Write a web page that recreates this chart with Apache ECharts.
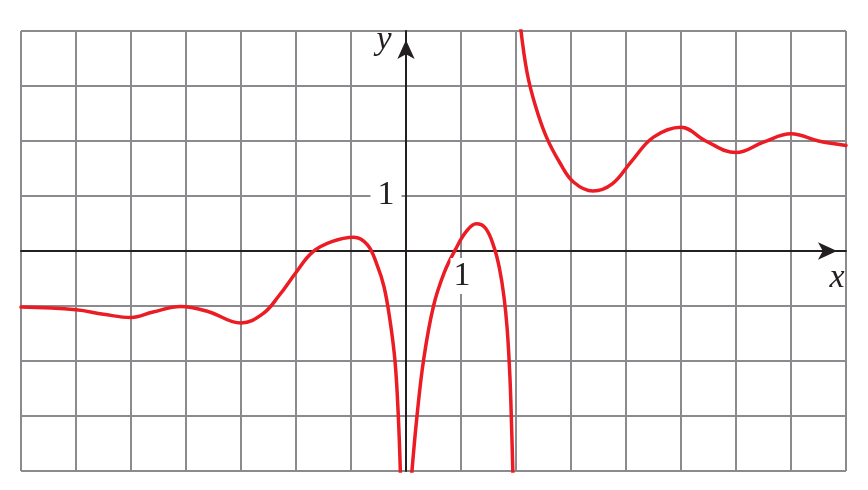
<!DOCTYPE html>
<html><head><meta charset="utf-8">
<script src="https://cdn.jsdelivr.net/npm/echarts@6/dist/echarts.min.js"></script>
<style>html,body{margin:0;padding:0;background:#fff}#c{width:868px;height:490px}</style>
</head><body><div id="c"></div>
<script>
// Axis ranges and labels
const xRange = [-7, 8];
const yRange = [-4, 4];
const xTickLabelValues = [1];
const yTickLabelValues = [1];
const xAxisName = 'x';
const yAxisName = 'y';

// Branch left of x = 0
const seg1X = [-7, -6, -5.5, -5, -4.6, -4.1, -3.6, -3, -2.6, -2.3, -2, -1.7, -1.35, -0.95, -0.7, -0.52, -0.4, -0.3, -0.2, -0.14, -0.1];
const seg1Y = [-1.02, -1.07, -1.15, -1.21, -1.11, -1.01, -1.1, -1.31, -1.14, -0.8, -0.39, -0.02, 0.17, 0.25, 0.11, -0.27, -0.65, -1.2, -2.0, -3.0, -4.1];

// Branch between x = 0 and x = 2
const seg2X = [0.1, 0.2, 0.32, 0.5, 0.7, 0.9, 1.1, 1.28, 1.45, 1.6, 1.7, 1.78, 1.84, 1.89, 1.92, 1.945];
const seg2Y = [-4.1, -3.0, -1.98, -1.0, -0.38, 0.03, 0.36, 0.495, 0.41, 0.07, -0.32, -0.82, -1.42, -2.3, -3.2, -4.1];

// Branch right of x = 2
const seg3X = [2.08, 2.2, 2.35, 2.55, 2.8, 3.05, 3.4, 3.75, 4.1, 4.5, 5, 5.45, 6, 6.5, 7, 7.5, 8];
const seg3Y = [4.1, 3.25, 2.65, 2.08, 1.6, 1.25, 1.09, 1.22, 1.63, 2.07, 2.25, 2.0, 1.79, 1.98, 2.13, 2.0, 1.92];

const zip = (xs, ys) => xs.map((x, i) => [x, ys[i]]);
const RED = '#ec1c24';
const GRID = '#8b8b8f';
const INK = '#231f20';
const FONT = '"Liberation Serif", "DejaVu Serif", serif';

const chart = echarts.init(document.getElementById('c'), null, {renderer: 'canvas'});

function lineSeries(data) {
  return {
    type: 'line', data, smooth: 0.4, showSymbol: false, symbol: 'none',
    clip: true, z: 5,
    lineStyle: {color: RED, width: 3.5, cap: 'round', join: 'round'}
  };
}

const axisCommon = {
  type: 'value', interval: 1,
  axisLine: {show: true, onZero: true, symbol: ['none', 'arrow'], symbolSize: [13, 19], symbolOffset: [0, -9],
    lineStyle: {color: INK, width: 2}},
  axisTick: {show: false},
  axisLabel: {show: false},
  splitLine: {show: true, lineStyle: {color: GRID, width: 2}}
};

chart.setOption({
  animation: false,
  backgroundColor: '#fff',
  grid: {left: 21, top: 31, width: 825, height: 440, containLabel: false, outerBoundsMode: 'none'},
  xAxis: Object.assign({}, axisCommon, {min: xRange[0], max: xRange[1]}),
  yAxis: Object.assign({}, axisCommon, {min: yRange[0], max: yRange[1]}),
  series: [lineSeries(zip(seg1X, seg1Y)), lineSeries(zip(seg2X, seg2Y)), lineSeries(zip(seg3X, seg3Y))]
});

// Tick labels and axis names, positioned through the chart's own scales
const graphics = [];
xTickLabelValues.forEach(v => {
  const p = chart.convertToPixel({gridIndex: 0}, [v, 0]);
  graphics.push({type: 'text', x: p[0] + 1, y: p[1] + 25, z: 10,
    style: {text: String(v), font: '34px ' + FONT, fill: INK, align: 'center', verticalAlign: 'middle',
      backgroundColor: '#fff', padding: [2, 3, 0, 3]}});
});
yTickLabelValues.forEach(v => {
  const p = chart.convertToPixel({gridIndex: 0}, [0, v]);
  graphics.push({type: 'text', x: p[0] - 20, y: p[1] - 1, z: 10,
    style: {text: String(v), font: '34px ' + FONT, fill: INK, align: 'center', verticalAlign: 'middle',
      backgroundColor: '#fff', padding: [0, 7, 0, 7]}});
});
const xEnd = chart.convertToPixel({gridIndex: 0}, [xRange[1], 0]);
graphics.push({type: 'text', x: xEnd[0] - 9, y: xEnd[1] + 27, z: 10,
  style: {text: xAxisName, font: 'italic 34px ' + FONT, fill: INK, align: 'center', verticalAlign: 'middle'}});
const yEnd = chart.convertToPixel({gridIndex: 0}, [0, yRange[1]]);
graphics.push({type: 'text', x: yEnd[0] - 22, y: yEnd[1] + 9, z: 10,
  style: {text: yAxisName, font: 'italic 34px ' + FONT, fill: INK, align: 'center', verticalAlign: 'middle'}});
chart.setOption({graphic: graphics});
</script></body></html>
